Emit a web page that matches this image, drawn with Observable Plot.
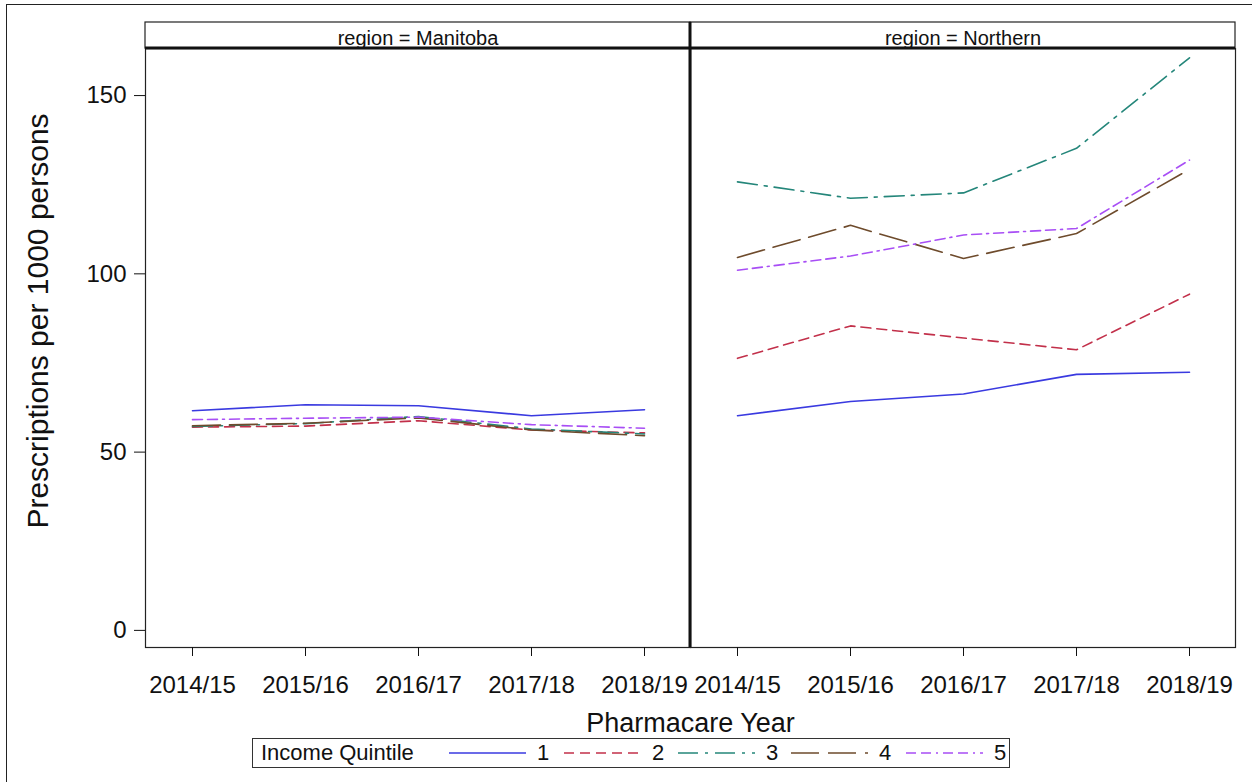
<!DOCTYPE html>
<html><head><meta charset="utf-8">
<script src="https://cdn.jsdelivr.net/npm/d3@7"></script>
<script src="https://cdn.jsdelivr.net/npm/@observablehq/plot@0.6"></script>
<style>
body{margin:0;background:#fff;font-family:"Liberation Sans",Arial,sans-serif;overflow:hidden}
#page{position:relative;width:1252px;height:782px;overflow:hidden}
#border{position:absolute;left:6px;top:4px;width:1300px;height:900px;border-top:1.5px solid #222;border-left:1.5px solid #222;z-index:5;pointer-events:none}
#chart{position:absolute;left:0;top:0}
#legend{position:absolute;left:252px;top:738px;width:758px;height:30px;border:1px solid #333;box-sizing:border-box;font-size:22px;color:#111;background:#fff}
#legend .t{position:absolute;top:50%;transform:translateY(-50%);white-space:nowrap}
#legend svg{position:absolute;top:0}
</style></head><body>
<div id="page"><div id="border"></div><div id="chart"></div><div id="legend"></div></div>
<script>
const years = ["2014/15", "2015/16", "2016/17", "2017/18", "2018/19"];
const regions = ["Manitoba", "Northern"];
const quintiles = ["1", "2", "3", "4", "5"];
const yTicks = [0, 50, 100, 150];

// rows: quintile 1..5, columns: years
const manitobaValues = [
  [61.6, 63.3, 63.0, 60.2, 61.9],
  [57.0, 57.3, 58.8, 56.2, 55.4],
  [57.2, 58.0, 60.0, 56.5, 55.1],
  [57.4, 58.1, 59.6, 56.2, 54.6],
  [59.1, 59.5, 59.8, 57.7, 56.7]
];
const northernValues = [
  [60.2, 64.2, 66.3, 71.8, 72.4],
  [76.3, 85.4, 82.0, 78.7, 94.3],
  [125.8, 121.2, 122.7, 135.2, 160.6],
  [104.6, 113.6, 104.3, 111.3, 129.3],
  [101.0, 105.0, 110.9, 112.7, 131.9]
];
const colors = ["#3a3ae0", "#c2304a", "#24867a", "#6e4b2c", "#a84ef5"];
const dashes = [null, "10,6", "20,7,3,7", "28,9", "10,5,10,5,2,5"];

const rows = [];
regions.forEach((r, ri) => {
  const vals = ri === 0 ? manitobaValues : northernValues;
  quintiles.forEach((q, qi) => years.forEach((y, yi) =>
    rows.push({region: r, quintile: q, year: y, value: vals[qi][yi]})));
});

const W = 1252, H = 735, MT = 48, MB = 88, ML = 145, MR = 17;
const font = "Liberation Sans, Arial, sans-serif";

const plot = Plot.plot({
  width: W, height: H,
  marginTop: MT, marginBottom: MB, marginLeft: ML, marginRight: MR,
  style: {fontFamily: font, background: "transparent", color: "#111", overflow: "visible"},
  fx: {domain: regions, padding: 0},
  x: {type: "point", domain: years, padding: 0.4},
  y: {domain: [-4.8, 163.2]},
  marks: [
    Plot.frame({stroke: "#222", strokeWidth: 1.2}),
    ...quintiles.map((q, i) => Plot.line(rows, {
      filter: d => d.quintile === q,
      fx: "region", x: "year", y: "value",
      stroke: colors[i], strokeWidth: 1.6,
      strokeDasharray: dashes[i] ?? undefined
    })),
    Plot.axisY({ticks: yTicks, tickSize: 11, tickPadding: 8, fontSize: 24,
      label: "Prescriptions per 1000 persons", labelAnchor: "center", labelArrow: "none", labelOffset: 119}),
    Plot.axisX({tickSize: 9, tickPadding: 19, fontSize: 24, label: null}),
    Plot.axisFx({anchor: "top", tickSize: 0, tickPadding: 4, fontSize: 20, label: null,
      tickFormat: d => `region = ${d}`}),
    Plot.axisFx({anchor: "bottom", ticks: [], tickSize: 0, label: "Pharmacare Year",
      labelAnchor: "center", labelArrow: "none", labelOffset: 84, fontSize: 27})
  ]
});
document.getElementById("chart").appendChild(plot);

// facet header strips and panel divider, placed from the fx scale
const svg = d3.select(plot);
const fxScale = plot.scale("fx");
const bw = fxScale.bandwidth;
const hdr = svg.insert("g", ":first-child");
regions.forEach(r => {
  hdr.append("rect").attr("x", fxScale.apply(r)).attr("y", MT - 26).attr("width", bw).attr("height", 26)
    .attr("fill", "white").attr("stroke", "#222").attr("stroke-width", 1.2);
});
const overlay = svg.append("g");
overlay.append("line").attr("x1", ML).attr("x2", W - MR).attr("y1", MT).attr("y2", MT)
  .attr("stroke", "#111").attr("stroke-width", 3);
overlay.append("line").attr("x1", fxScale.apply(regions[1])).attr("x2", fxScale.apply(regions[1]))
  .attr("y1", MT - 26).attr("y2", H - MB).attr("stroke", "#111").attr("stroke-width", 3);
// y label size and vertical placement
svg.selectAll("g[aria-label='y-axis label']").each(function() {
  const g = d3.select(this);
  g.attr("transform", ((g.attr("transform") || "") + " translate(0,-27)").trim());
  g.selectAll("text").style("font-size", "30px");
});

// legend
const legend = d3.select("#legend");
legend.append("div").attr("class", "t").style("left", "8px").text("Income Quintile");
const starts = [196, 311, 425, 538, 653];
quintiles.forEach((q, i) => {
  const s = legend.append("svg").attr("width", 78).attr("height", 28).style("left", starts[i] + "px");
  s.append("line").attr("x1", 0).attr("x2", 77).attr("y1", 14).attr("y2", 14)
    .attr("stroke", colors[i]).attr("stroke-width", 1.6)
    .attr("stroke-dasharray", dashes[i]);
  legend.append("div").attr("class", "t").style("left", (starts[i] + 88) + "px").text(q);
});
</script>
</body></html>
